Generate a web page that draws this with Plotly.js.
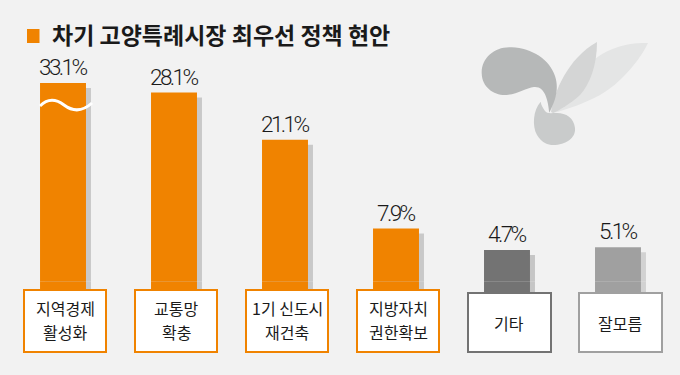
<!DOCTYPE html>
<html><head><meta charset="utf-8">
<script src="https://cdn.plot.ly/plotly-3.0.1.min.js"></script>
<style>html,body{margin:0;padding:0;background:#f2f2f2}</style>
</head><body><div id="chart" style="width:680px;height:375px"></div>
<script>
// ---- data ----
const titleText = '차기 고양특례시장 최우선 정책 현안';
const categories = ['지역경제<br>활성화', '교통망<br>확충', '1기 신도시<br>재건축', '지방자치<br>권한확보', '기타', '잘모름'];
const values = [33.1, 28.1, 21.1, 7.9, 4.7, 5.1];
const valueLabels = ['33.1%', '28.1%', '21.1%', '7.9%', '4.7%', '5.1%'];
const barColors = ['#F08300', '#F08300', '#F08300', '#F08300', '#737373', '#A0A0A0'];
const shadowColors = ['#C9C9C9', '#C9C9C9', '#C9C9C9', '#C9C9C9', '#C6C6C6', '#D2D2D2'];
const boxBorderColors = ['#F08300', '#F08300', '#F08300', '#F08300', '#737373', '#A0A0A0'];

// ---- layout constants ----
const W = 680, H = 375;
const ML = 0, MT = 83, MB = 75;
const PLOT_BOTTOM = H - MB;
const YMAX = 29.52, YMIN = -2.72;
const XMIN = -0.5676, XMAX = 5.5586;
const BW = 0.414;
const SHADOW_DX = 0.045, SHADOW_DY = 0.743;
const FONT_KR = '"Noto Sans CJK KR", "Noto Sans", sans-serif';
const FONT_NUM = 'Roboto, "Liberation Sans", sans-serif';

const xs = categories.map((_, i) => i);

const shadowTrace = {
  type: 'bar', x: xs, y: values.map(v => Math.min(v, YMAX) - SHADOW_DY),
  width: BW, offset: -BW / 2 + SHADOW_DX,
  marker: {color: shadowColors, line: {width: 0}}, hoverinfo: 'skip', showlegend: false
};
const barTrace = {
  type: 'bar', x: xs, y: values,
  width: BW, offset: -BW / 2,
  marker: {color: barColors, line: {width: 0}}, hoverinfo: 'skip', showlegend: false
};

// pixel-space path helper (figure pixels -> shape pixel coords, anchored at plot top-left)
function pix(path) {
  return path.replace(/(-?[\d.]+),(-?[\d.]+)/g, (m, a, b) => (+a - ML).toFixed(1) + ',' + (MT - +b).toFixed(1));
}
function pixShape(path, fill, extra) {
  return Object.assign({
    type: 'path', xref: 'paper', yref: 'paper', xsizemode: 'pixel', ysizemode: 'pixel',
    xanchor: 0, yanchor: 1, path: pix(path), fillcolor: fill, line: {width: 0}
  }, extra || {});
}

const shapes = [];
// bar extensions down behind the label boxes
xs.forEach(i => {
  shapes.push({type: 'rect', xref: 'x', yref: 'y', layer: 'below',
    x0: i - BW / 2 + SHADOW_DX, x1: i + BW / 2 + SHADOW_DX, y0: YMIN, y1: 0,
    fillcolor: shadowColors[i], line: {width: 0}});
  shapes.push({type: 'rect', xref: 'x', yref: 'y', layer: 'below',
    x0: i - BW / 2, x1: i + BW / 2, y0: YMIN, y1: 0,
    fillcolor: barColors[i], line: {width: 0}});
});
// axis-break wave on the first bar
shapes.push(pixShape('M 40,106 C 48,98 56,99 64,105 C 72,111 81,113 92,103', 'rgba(0,0,0,0)',
  {line: {color: '#ffffff', width: 3}}));
// title square
shapes.push(pixShape('M 27,29 L 39.5,29 L 39.5,43 L 27,43 Z', '#F08300'));
// decorative logo
shapes.push(pixShape('M 553,112 C 568,86 588,56 618,47 C 630,43 640,43 648,43 C 640,60 620,84 600,95 C 585,103 566,110 553,113 Z', '#E4E5E5'));
shapes.push(pixShape('M 551,112 C 554,92 568,58 597,42 C 597,65 590,84 580,95 C 570,104 560,110 553,113 Z', '#D4D5D5'));
shapes.push(pixShape('M 511.7,47.3 C 495,46 481,58 481.7,73.3 C 482,88 495,96 506.7,95 C 518,94 526,88 534,87 C 545,86 548,100 549.3,112.7 C 556,100 559,88 555,76 C 550,60 532,48 511.7,47.3 Z', '#B6B8B8'));
shapes.push(pixShape('M 540.7,101.7 C 533,110 532,126 537,135 C 542,143 548,145 553,145 C 566,145 576,138 575,128 C 574,118 566,113 557,113 C 551,113 547,114 545,111 C 543,108 541,105 540.7,101.7 Z', '#C9CBCB'));

const annotations = [];
xs.forEach(i => {
  // value label
  annotations.push({
    x: i, y: Math.min(values[i], YMAX), xref: 'x', yref: 'y', yanchor: 'middle', yshift: 16,
    text: '<span style="letter-spacing:-2.6px">' + valueLabels[i] + '</span>', showarrow: false,
    font: {family: FONT_NUM, size: 22.5, weight: 300, color: '#1a1a1a'}
  });
  const orange = i < 4;
  // label box
  const boxTop = orange ? 289 : 292;
  annotations.push({
    x: i, y: 0, xref: 'x', yref: 'paper', xanchor: 'center', yanchor: 'top',
    xshift: 2, yshift: PLOT_BOTTOM - boxTop,
    width: orange ? 80 : 81, height: orange ? 60 : 57,
    bgcolor: '#ffffff', bordercolor: boxBorderColors[i], borderwidth: 2, borderpad: 0,
    text: ' ', showarrow: false
  });
  // label text lines
  const lines = categories[i].split('<br>');
  const centerY = orange ? 320 : 322.5;
  const LINE_GAP = 24;
  lines.forEach((ln, k) => {
    const cy = centerY + (k - (lines.length - 1) / 2) * LINE_GAP;
    annotations.push({
      x: i, y: 0, xref: 'x', yref: 'paper', xanchor: 'center', yanchor: 'middle',
      xshift: 2, yshift: PLOT_BOTTOM - cy,
      text: ln, showarrow: false,
      font: {family: FONT_KR, size: 16, color: '#1a1a1a'}
    });
  });
});

const layout = {
  width: W, height: H,
  margin: {l: ML, r: 0, t: MT, b: MB, pad: 0},
  paper_bgcolor: '#f2f2f2', plot_bgcolor: '#f2f2f2',
  barmode: 'overlay', showlegend: false,
  title: {text: titleText, x: 52 / W, xanchor: 'left', xref: 'container',
    y: 1 - 36 / H, yanchor: 'middle', yref: 'container',
    font: {family: FONT_KR, size: 23, weight: 'bold', color: '#1a1a1a'}},
  xaxis: {range: [XMIN, XMAX], showgrid: false, zeroline: false, showticklabels: false, ticks: '', showline: false, fixedrange: true},
  yaxis: {range: [YMIN, YMAX], showgrid: false, zeroline: false, showticklabels: false, ticks: '', showline: false, fixedrange: true},
  shapes: shapes, annotations: annotations
};

Plotly.newPlot('chart', [shadowTrace, barTrace], layout, {displayModeBar: false, staticPlot: true});
</script></body></html>
